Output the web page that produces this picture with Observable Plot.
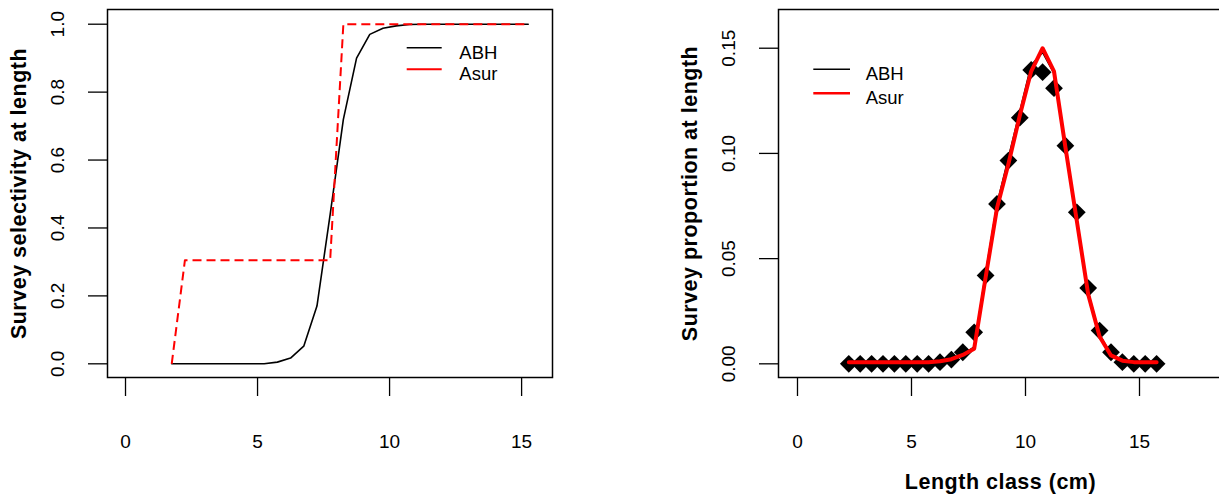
<!DOCTYPE html>
<html>
<head>
<meta charset="utf-8">
<script src="https://cdn.jsdelivr.net/npm/d3@7"></script>
<script src="https://cdn.jsdelivr.net/npm/@observablehq/plot@0.6"></script>
<style>
  html, body { margin: 0; padding: 0; background: #fff; }
  #wrap { position: relative; width: 1219px; height: 495px; overflow: hidden; background: #fff; }
  #left { position: absolute; left: 0; top: 0; width: 609px; height: 495px; overflow: hidden; }
  #right { position: absolute; left: 609px; top: 0; width: 610px; height: 495px; overflow: hidden; }
  svg { display: block; max-width: none !important; }
</style>
</head>
<body>
<div id="wrap"><div id="left"></div><div id="right"></div></div>
<script>
// ---- Data ----
const lengthLeft = [1.75, 2.25, 2.75, 3.25, 3.75, 4.25, 4.75, 5.25, 5.75, 6.25, 6.75, 7.25, 7.75, 8.25,
  8.75, 9.25, 9.75, 10.25, 10.75, 11.25, 11.75, 12.25, 12.75, 13.25, 13.75, 14.25, 14.75, 15.25];
const selABH = [0, 0, 0, 0, 0, 0, 0, 0, 0.005, 0.017, 0.052, 0.17, 0.44, 0.72,
  0.90, 0.97, 0.988, 0.995, 0.999, 1, 1, 1, 1, 1, 1, 1, 1, 1];
const selAsur = [0, 0.305, 0.305, 0.305, 0.305, 0.305, 0.305, 0.305, 0.305, 0.305, 0.305, 0.305, 0.305, 1,
  1, 1, 1, 1, 1, 1, 1, 1, 1, 1, 1, 1, 1, 1];

const lengthRight = [2.25, 2.75, 3.25, 3.75, 4.25, 4.75, 5.25, 5.75, 6.25, 6.75, 7.25, 7.75, 8.25, 8.75,
  9.25, 9.75, 10.25, 10.75, 11.25, 11.75, 12.25, 12.75, 13.25, 13.75, 14.25, 14.75, 15.25, 15.75];
const obsABH = [0, 0, 0, 0, 0, 0, 0, 0, 0.0008, 0.002, 0.0055, 0.015, 0.042, 0.076,
  0.0966, 0.117, 0.1397, 0.1386, 0.131, 0.1037, 0.072, 0.036, 0.0158, 0.0055, 0.0008, 0, 0, 0];
const propABH = [0.0008, 0.0008, 0.0008, 0.0008, 0.0008, 0.0008, 0.0008, 0.0009, 0.0013, 0.0023, 0.0045, 0.008, 0.043, 0.076,
  0.098, 0.12, 0.142, 0.148, 0.138, 0.103, 0.069, 0.034, 0.014, 0.0045, 0.0016, 0.0008, 0.0008, 0.0008];
const propAsur = [0.0008, 0.0008, 0.0008, 0.0008, 0.0008, 0.0008, 0.0008, 0.0008, 0.0012, 0.0022, 0.0042, 0.0072, 0.041, 0.074,
  0.095, 0.118, 0.139, 0.15, 0.139, 0.103, 0.068, 0.033, 0.013, 0.004, 0.0015, 0.0008, 0.0008, 0.0008];

const xTicks = [0, 5, 10, 15];
const yTicksLeft = [0, 0.2, 0.4, 0.6, 0.8, 1.0];
const yTicksRight = [0, 0.05, 0.10, 0.15];
const seriesNames = ["ABH", "Asur"];
const yTitleLeft = "Survey selectivity at length";
const yTitleRight = "Survey proportion at length";
const xTitle = "Length class (cm)";

// ---- Build tables ----
const leftABH = lengthLeft.map((x, i) => ({x, y: selABH[i]}));
const leftAsur = lengthLeft.map((x, i) => ({x, y: selAsur[i]}));
const rightObs = lengthRight.map((x, i) => ({x, y: obsABH[i]}));
const rightABH = lengthRight.map((x, i) => ({x, y: propABH[i]}));
const rightAsur = lengthRight.map((x, i) => ({x, y: propAsur[i]}));

const FONT = "'Liberation Sans', Arial, Helvetica, sans-serif";
const style = {fontFamily: FONT, background: "#fff", color: "#000", overflow: "visible", maxWidth: "none"};

function axes(yTicks, yFmt) {
  return [
    Plot.axisX({ticks: xTicks, tickSize: 19, tickPadding: 38, fontSize: 19, strokeWidth: 1.3, label: null, tickFormat: d => String(d)}),
    Plot.axisY({ticks: yTicks, tickSize: 19, strokeWidth: 1.3, fill: "none", label: null, tickFormat: yFmt}),
    Plot.axisY({ticks: yTicks, tickSize: 0, tickPadding: 44, fontSize: 19, label: null,
      rotate: -90, textAnchor: "middle", lineAnchor: "bottom", tickFormat: yFmt})
  ];
}

const left = Plot.plot({
  width: 609, height: 495,
  marginLeft: 107, marginRight: 57, marginTop: 9, marginBottom: 118,
  style,
  x: {domain: [-0.682, 16.17]},
  y: {domain: [-0.0403, 1.0433]},
  marks: [
    ...axes(yTicksLeft, d3.format(".1f")),
    Plot.line(leftABH, {x: "x", y: "y", stroke: "#000", strokeWidth: 1.6}),
    Plot.line(leftAsur, {x: "x", y: "y", stroke: "#ff0000", strokeWidth: 2, strokeDasharray: "9,5", strokeLinecap: "butt"}),
    Plot.frame({stroke: "#000", strokeWidth: 1.5}),
    Plot.text([yTitleLeft], {text: d => d, frameAnchor: "left", dx: -82, rotate: -90, textAnchor: "middle",
      lineAnchor: "bottom", fontWeight: "bold", fontSize: 21.5})
  ]
});
document.getElementById("left").appendChild(left);

const right = Plot.plot({
  width: 630, height: 495,
  marginLeft: 169, marginRight: 0, marginTop: 9, marginBottom: 118,
  style,
  x: {domain: [-0.833, 19.386]},
  y: {domain: [-0.0065, 0.1684]},
  marks: [
    ...axes(yTicksRight, d3.format(".2f")),
    Plot.dot(rightObs, {x: "x", y: "y", symbol: "diamond2", r: 8, fill: "#000", stroke: "none"}),
    Plot.line(rightABH, {x: "x", y: "y", stroke: "#000", strokeWidth: 1.6}),
    Plot.line(rightAsur, {x: "x", y: "y", stroke: "#ff0000", strokeWidth: 4}),
    Plot.frame({stroke: "#000", strokeWidth: 1.5}),
    Plot.text([yTitleRight], {text: d => d, frameAnchor: "left", dx: -82, rotate: -90, textAnchor: "middle",
      lineAnchor: "bottom", fontWeight: "bold", fontSize: 21.5}),
    Plot.text([xTitle], {text: d => d, frameAnchor: "bottom", dx: -8.5, dy: 111, textAnchor: "middle",
      lineAnchor: "bottom", fontWeight: "bold", fontSize: 21.5})
  ]
});
document.getElementById("right").appendChild(right);

// letter spacing for bold titles
[left, right].forEach(svg => {
  d3.select(svg).selectAll("text").filter(function() {
    const t = this.textContent; return t === yTitleLeft || t === yTitleRight || t === xTitle;
  }).attr("letter-spacing", "0.5px");
});

// ---- Legends ----
function legend(svg, x0, x1, tx, ys, baseOff, items) {
  const g = d3.select(svg).append("g").attr("font-family", FONT).attr("font-size", 18.5).attr("text-anchor", "start");
  items.forEach((it, i) => {
    g.append("line").attr("x1", x0).attr("x2", x1).attr("y1", ys[i]).attr("y2", ys[i])
      .attr("stroke", it.color).attr("stroke-width", it.width);
    g.append("text").attr("x", tx).attr("y", ys[i] + baseOff).attr("fill", "#000").attr("text-anchor", "start").text(it.name);
  });
}
legend(left, 406.7, 441.7, 459.3, [47.7, 69.3], 10.8, [
  {name: seriesNames[0], color: "#000", width: 1.6},
  {name: seriesNames[1], color: "#ff0000", width: 2}
]);
legend(right, 813.3 - 609, 850 - 609, 865.7 - 609, [69.3, 93.3], 10.8, [
  {name: seriesNames[0], color: "#000", width: 1.6},
  {name: seriesNames[1], color: "#ff0000", width: 2.6}
]);
</script>
</body>
</html>
